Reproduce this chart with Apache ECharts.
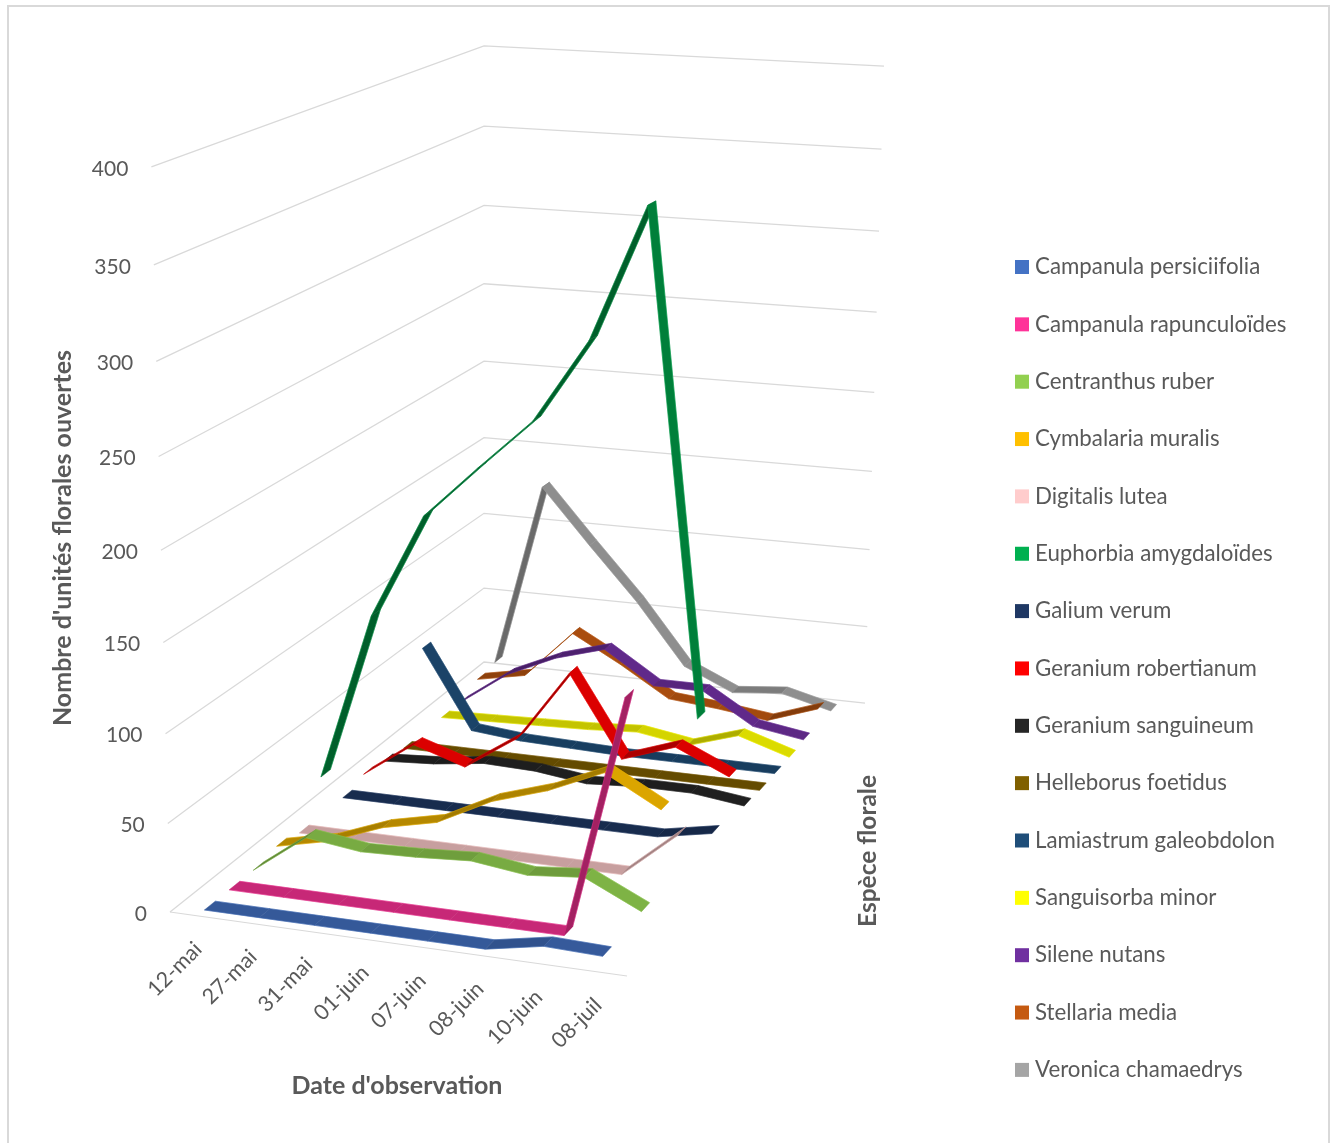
<!DOCTYPE html>
<html>
<head>
<meta charset="utf-8">
<title>Unités florales ouvertes</title>
<script src="https://cdn.jsdelivr.net/npm/echarts@6/dist/echarts.min.js"></script>
<style>
  html, body { margin: 0; padding: 0; background: #fff; }
  #chart { width: 1335px; height: 1143px; }
</style>
</head>
<body>
<div id="chart"></div>
<script>
var dates = ['12-mai', '27-mai', '31-mai', '01-juin', '07-juin', '08-juin', '10-juin', '08-juil']
var valueTicks = [0, 50, 100, 150, 200, 250, 300, 350, 400]
var species = [
  'Campanula persiciifolia', 'Campanula rapunculoïdes', 'Centranthus ruber', 'Cymbalaria muralis',
  'Digitalis lutea', 'Euphorbia amygdaloïdes', 'Galium verum', 'Geranium robertianum',
  'Geranium sanguineum', 'Helleborus foetidus', 'Lamiastrum galeobdolon', 'Sanguisorba minor',
  'Silene nutans', 'Stellaria media', 'Veronica chamaedrys'
]
var colors = [
  '#4472C4', '#FF3399', '#92D050', '#FFC000', '#FFCCCC', '#00B050', '#1F3864', '#FF0000',
  '#262626', '#806000', '#1F4E79', '#FFFF00', '#7030A0', '#C55A11', '#A5A5A5'
]

var campanulaPersiciifolia = [0, 0, 0, 0, 0, 0, 6, 5]
var campanulaRapunculoides = [0, 0, 0, 0, 0, 0, 0, 134]
var centranthusRuber = [0, 23, 19, 20, 22, 18, 21, 6]
var cymbalariaMuralis = [3, 10, 22, 29, 45, 55, 69, 52]
var digitalisLutea = [0, 0, 0, 0, 0, 0, 0, 27]
var euphorbiaAmygdaloides = [23, 122, 183, 213, 242, 289, 364, 83]
var galiumVerum = [0, 0, 0, 0, 0, 0, 0, 6]
var geraniumRobertianum = [4, 26, 16, 37, 80, 32, 43, 29]
var geraniumSanguineum = [2, 4, 8, 7, 3, 5, 5, 1]
var helleborusFoetidus = [0, 0, 0, 0, 0, 0, 0, 0]
var lamiastrumGaleobdolon = [54, 5, 2, 1, 0, 0, 0, 0]
var sanguisorbaMinor = [0, 1, 2, 3, 5, 0, 10, 0]
var sileneNutans = [0, 22, 36, 45, 25, 25, 6, 1]
var stellariaMedia = [6, 12, 43, 26, 7, 4, 0, 11]
var veronicaChamaedrys = [8, 127, 92, 58, 19, 5, 8, 0]

var seriesValues = [
  campanulaPersiciifolia, campanulaRapunculoides, centranthusRuber, cymbalariaMuralis,
  digitalisLutea, euphorbiaAmygdaloides, galiumVerum, geraniumRobertianum,
  geraniumSanguineum, helleborusFoetidus, lamiastrumGaleobdolon, sanguisorbaMinor,
  sileneNutans, stellariaMedia, veronicaChamaedrys
]

var textColor = '#595959'
var gridColor = '#D9D9D9'
var fontName = 'Lato, "Open Sans", sans-serif'
var maxValue = 400
var ribbonDepth = 0.0145

// perspective box: u along dates, v along species, t along values, all 0..1
function project (u, v, t) {
  var w = 1 - 0.04963 * u + 0.23048 * v - 0.056 * t
  var up = 754.4 + 6.2 * v - 4.8 * u * v
  return [
    (425.9 * u + 425.55 * v + 170 - 27.1 * t) / w,
    (15.56 * u - 97.4 * v + 912 - up * t) / w
  ]
}
function dateU (i) { return (i + 0.5) / dates.length }
function speciesV (s) { return (s + 0.5) / species.length }

function shade (hex, k) {
  var n = parseInt(hex.slice(1), 16)
  var r = Math.round(((n >> 16) & 255) * k)
  var g = Math.round(((n >> 8) & 255) * k)
  var b = Math.round((n & 255) * k)
  return 'rgb(' + r + ',' + g + ',' + b + ')'
}

function ribbonRender (s) {
  return function (params, api) {
    var i = api.value(0)
    if (i >= dates.length - 1) return null
    var a = api.value(1)
    var b = seriesValues[s][i + 1]
    var v = speciesV(s)
    var c = [
      project(dateU(i), v - ribbonDepth, a / maxValue),
      project(dateU(i + 1), v - ribbonDepth, b / maxValue),
      project(dateU(i + 1), v + ribbonDepth, b / maxValue),
      project(dateU(i), v + ribbonDepth, a / maxValue)
    ].map(function (p) { return api.coord(p) })
    var d = b - a
    var k = d > 0 ? 0.78 - Math.min(0.14, d * 0.01) : 0.78 + Math.min(0.08, -d * 0.01)
    // the tallest green ribbon is noticeably darker than its legend key
    if (species[s] === 'Euphorbia amygdaloïdes') k *= 0.84
    var fill = shade(colors[s], k)
    var edge = { stroke: colors[s], lineWidth: 0.6, opacity: 0.6 }
    return {
      type: 'group',
      children: [
        { type: 'polygon', shape: { points: c }, style: { fill: fill, stroke: fill, lineWidth: 0.5 } },
        { type: 'polyline', shape: { points: [c[0], c[1]] }, style: Object.assign({ fill: null }, edge) },
        { type: 'polyline', shape: { points: [c[3], c[2]] }, style: Object.assign({ fill: null }, edge) }
      ]
    }
  }
}

function gridRender (params, api) {
  var t = api.value(0) / maxValue
  var pts = [project(0, 0, t), project(0, 1, t), project(1, 1, t)].map(function (c) { return api.coord(c) })
  var children = [
    { type: 'polyline', shape: { points: pts }, style: { fill: null, stroke: gridColor, lineWidth: 1.25 } },
    {
      type: 'text', x: pts[0][0] - 23, y: pts[0][1] + 2,
      style: { text: String(api.value(0)), fill: textColor, font: '21px ' + fontName, align: 'right', verticalAlign: 'middle' }
    }
  ]
  if (t === 0) {
    children.push({
      type: 'line',
      shape: { x1: pts[0][0], y1: pts[0][1], x2: api.coord(project(1, 0, 0))[0], y2: api.coord(project(1, 0, 0))[1] },
      style: { stroke: gridColor, lineWidth: 1.25 }
    })
  }
  return { type: 'group', children: children }
}

function dateRender (params, api) {
  var i = api.value(0)
  var p = api.coord(project(dateU(i), 0, 0))
  return {
    type: 'text', x: p[0] + 1, y: p[1] + 30, rotation: Math.PI / 4,
    style: { text: dates[i], fill: textColor, font: '21.5px ' + fontName, align: 'right', verticalAlign: 'middle' }
  }
}

var series = [
  { type: 'custom', name: 'grid', silent: true, z: 1, renderItem: gridRender, data: valueTicks.map(function (t) { return [t, 0] }) },
  { type: 'custom', name: 'dates', silent: true, z: 1, renderItem: dateRender, data: dates.map(function (d, i) { return [i, 0] }) }
]
species.forEach(function (name, s) {
  series.push({
    type: 'custom',
    name: name,
    silent: true,
    z: 20 - s,
    itemStyle: { color: colors[s] },
    renderItem: ribbonRender(s),
    data: seriesValues[s].map(function (val, i) { return [i, val] })
  })
})

var myChart = echarts.init(document.getElementById('chart'), null, { renderer: 'canvas' })
myChart.setOption({
  animation: false,
  backgroundColor: '#fff',
  grid: { left: 0, top: 0, width: 1335, height: 1143 },
  xAxis: { type: 'value', min: 0, max: 1335, show: false },
  yAxis: { type: 'value', min: 0, max: 1143, inverse: true, show: false },
  legend: {
    orient: 'vertical',
    left: 1015,
    top: 256,
    padding: 0,
    data: species,
    icon: 'rect',
    itemWidth: 14,
    itemHeight: 14,
    itemGap: 35.35,
    selectedMode: false,
    textStyle: { color: textColor, fontFamily: fontName, fontSize: 22.3, padding: [0, 0, 0, 1] }
  },
  graphic: [
    { type: 'rect', shape: { x: 8, y: 6, width: 1321, height: 1160 }, style: { fill: null, stroke: gridColor, lineWidth: 2 }, z: 0, silent: true },
    { type: 'text', x: 63, y: 538, rotation: Math.PI / 2, style: { text: "Nombre d'unités florales ouvertes", fill: textColor, font: 'bold 25px ' + fontName, align: 'center', verticalAlign: 'middle' } },
    { type: 'text', x: 397, y: 1086, style: { text: "Date d'observation", fill: textColor, font: 'bold 25px ' + fontName, align: 'center', verticalAlign: 'middle' } },
    { type: 'text', x: 868, y: 851, rotation: Math.PI / 2, style: { text: 'Espèce florale', fill: textColor, font: 'bold 24.5px ' + fontName, align: 'center', verticalAlign: 'middle' } }
  ],
  series: series
})
</script>
</body>
</html>
